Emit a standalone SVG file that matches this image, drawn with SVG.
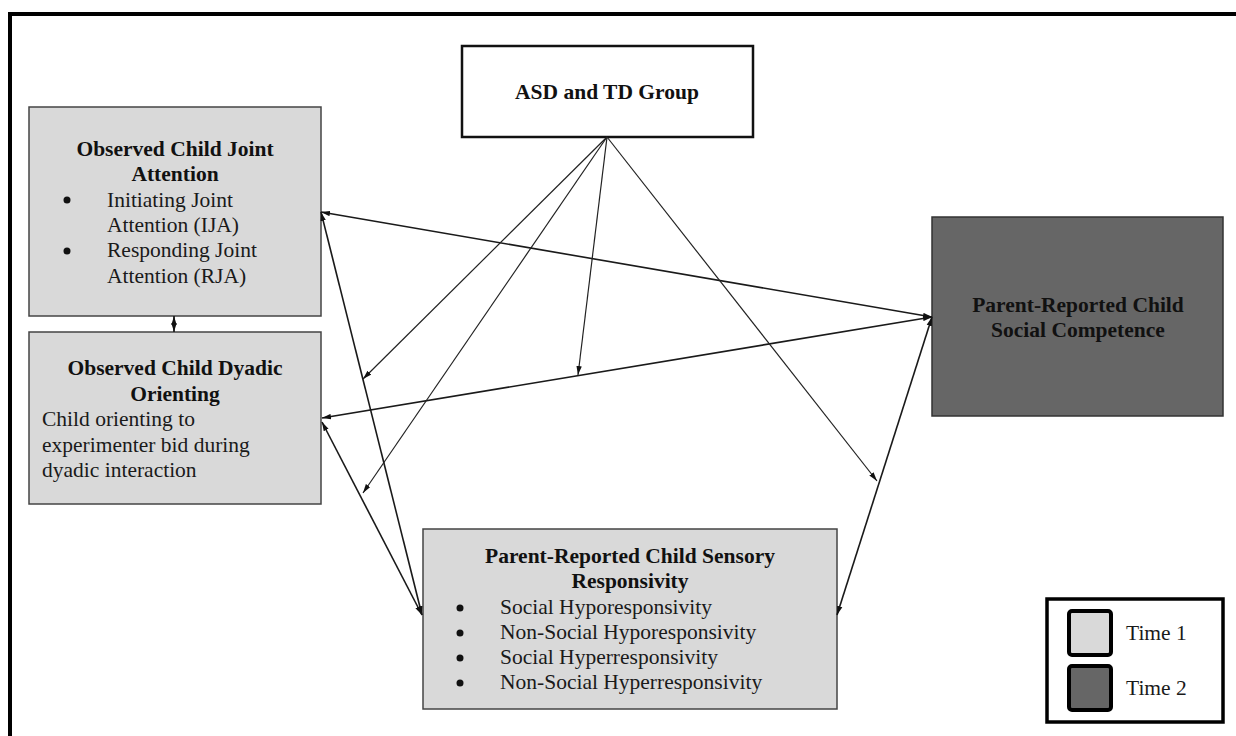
<svg xmlns="http://www.w3.org/2000/svg" width="1236" height="736" viewBox="0 0 1236 736">
  <defs>
    <marker id="ah" viewBox="0 0 10 6" refX="10" refY="3" markerWidth="9" markerHeight="6" markerUnits="userSpaceOnUse" orient="auto-start-reverse">
      <path d="M0,0 L10,3 L0,6 Z" fill="#111"/>
    </marker>
    <style>
      .t { font-family: "Liberation Serif", "Times New Roman", serif; font-size: 21.5px; fill: #1a1a1a; }
      .b { font-weight: bold; fill: #111; }
      .light { fill: #d9d9d9; stroke: #444; stroke-width: 1.5; }
      .dark { fill: #666666; stroke: #333; stroke-width: 1.5; }
      .con { fill: none; stroke: #1a1a1a; stroke-width: 1.6; }
      .thin { fill: none; stroke: #222; stroke-width: 1.2; }
      .dot { fill: #111; }
    </style>
  </defs>
  <rect width="1236" height="736" fill="#ffffff"/>
  <path d="M10,740 V14 H1240" fill="none" stroke="#000" stroke-width="4"/>

  <g id="node-ja">
    <rect class="light" x="29" y="107" width="292" height="209"/>
    <text class="t b" x="175" y="156" text-anchor="middle">Observed Child Joint</text>
    <text class="t b" x="175" y="181" text-anchor="middle">Attention</text>
    <circle class="dot" cx="67" cy="200" r="3.5"/>
    <text class="t" x="107" y="207">Initiating Joint</text>
    <text class="t" x="107" y="232">Attention (IJA)</text>
    <circle class="dot" cx="67" cy="251" r="3.5"/>
    <text class="t" x="107" y="257">Responding Joint</text>
    <text class="t" x="107" y="283">Attention (RJA)</text>
  </g>

  <g id="node-dyadic">
    <rect class="light" x="29" y="332" width="292" height="172"/>
    <text class="t b" x="175" y="375" text-anchor="middle">Observed Child Dyadic</text>
    <text class="t b" x="175" y="401" text-anchor="middle">Orienting</text>
    <text class="t" x="42" y="426">Child orienting to</text>
    <text class="t" x="42" y="452">experimenter bid during</text>
    <text class="t" x="42" y="477">dyadic interaction</text>
  </g>

  <g id="node-group">
    <rect x="462" y="46" width="291" height="91" fill="#fff" stroke="#111" stroke-width="2.5"/>
    <text class="t b" x="607" y="99" text-anchor="middle">ASD and TD Group</text>
  </g>

  <g id="node-social">
    <rect class="dark" x="932" y="217" width="291" height="199"/>
    <text class="t b" x="1078" y="312" text-anchor="middle">Parent-Reported Child</text>
    <text class="t b" x="1078" y="337" text-anchor="middle">Social Competence</text>
  </g>

  <g id="node-sensory">
    <rect class="light" x="423" y="529" width="414" height="180"/>
    <text class="t b" x="630" y="563" text-anchor="middle">Parent-Reported Child Sensory</text>
    <text class="t b" x="630" y="588" text-anchor="middle">Responsivity</text>
    <circle class="dot" cx="460" cy="608" r="3.5"/>
    <text class="t" x="500" y="614">Social Hyporesponsivity</text>
    <circle class="dot" cx="460" cy="633" r="3.5"/>
    <text class="t" x="500" y="639">Non-Social Hyporesponsivity</text>
    <circle class="dot" cx="460" cy="658" r="3.5"/>
    <text class="t" x="500" y="664">Social Hyperresponsivity</text>
    <circle class="dot" cx="460" cy="683" r="3.5"/>
    <text class="t" x="500" y="689">Non-Social Hyperresponsivity</text>
  </g>

  <g id="legend">
    <rect x="1047" y="599" width="176" height="123" fill="#fff" stroke="#000" stroke-width="3.5"/>
    <rect x="1069" y="611" width="42" height="44" rx="3" fill="#d9d9d9" stroke="#000" stroke-width="4"/>
    <text class="t" x="1126" y="640">Time 1</text>
    <rect x="1069" y="666" width="42" height="44" rx="3" fill="#666666" stroke="#000" stroke-width="4"/>
    <text class="t" x="1126" y="695">Time 2</text>
  </g>

  <g id="connectors">
    <line class="con" x1="321" y1="212" x2="932" y2="317" marker-start="url(#ah)" marker-end="url(#ah)"/>
    <line class="con" x1="322" y1="418" x2="932" y2="317" marker-start="url(#ah)" marker-end="url(#ah)"/>
    <line class="con" x1="321" y1="212" x2="422" y2="615" marker-start="url(#ah)" marker-end="url(#ah)"/>
    <line class="con" x1="322" y1="422" x2="422" y2="615" marker-start="url(#ah)" marker-end="url(#ah)"/>
    <line class="con" x1="837" y1="615" x2="932" y2="317" marker-start="url(#ah)" marker-end="url(#ah)"/>
    <line class="con" x1="174" y1="316" x2="174" y2="332" marker-start="url(#ah)" marker-end="url(#ah)"/>
    <line class="thin" x1="607" y1="137" x2="363" y2="379" marker-end="url(#ah)"/>
    <line class="thin" x1="607" y1="137" x2="363" y2="493" marker-end="url(#ah)"/>
    <line class="thin" x1="607" y1="137" x2="578" y2="375" marker-end="url(#ah)"/>
    <line class="thin" x1="607" y1="137" x2="877" y2="481" marker-end="url(#ah)"/>
  </g>
</svg>
